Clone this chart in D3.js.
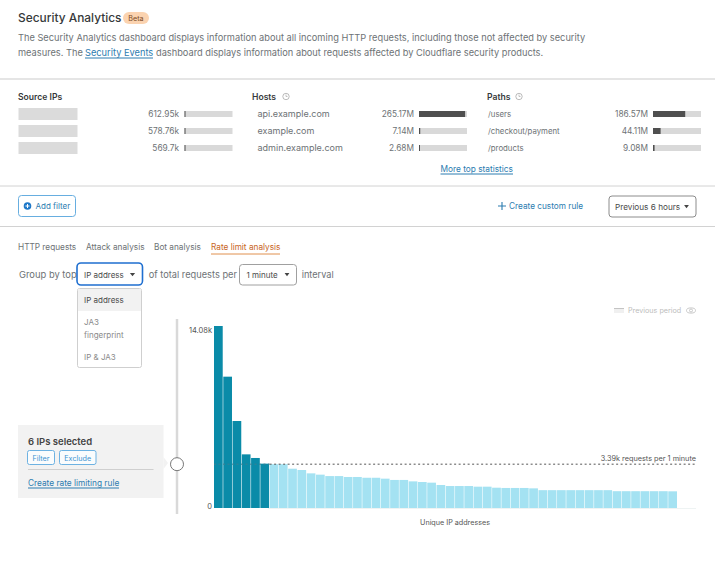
<!DOCTYPE html>
<html>
<head>
<meta charset="utf-8">
<script src="https://cdn.jsdelivr.net/npm/d3@7"></script>
<style>
  html, body { margin: 0; padding: 0; background: #fff; }
  svg { display: block; font-family: Inter, "Noto Sans", Arial, sans-serif; }
</style>
</head>
<body>
<div id="page"></div>
<script>
// top statistics
const sourceValues = [612950, 578760, 569700];
const sourceLabels = ['612.95k', '578.76k', '569.7k'];
const hostNames = ['api.example.com', 'example.com', 'admin.example.com'];
const hostValues = [265170000, 7140000, 2680000];
const hostLabels = ['265.17M', '7.14M', '2.68M'];
const pathNames = ['/users', '/checkout/payment', '/products'];
const pathValues = [186570000, 44110000, 9080000];
const pathLabels = ['186.57M', '44.11M', '9.08M'];
const tabs = ['HTTP requests', 'Attack analysis', 'Bot analysis', 'Rate limit analysis'];
const menuItems = ['IP address', 'JA3', 'fingerprint', 'IP & JA3'];

// rate limit chart, requests per minute for each unique IP
const requests = [
    14080, 10160, 6730, 4150, 3870, 3430, 3390, 3390, 3040, 2940,
    2680, 2580, 2470, 2470, 2400, 2400, 2340, 2340, 2270, 2170,
    2170, 2060, 2010, 1960, 1780, 1700, 1700, 1700, 1650, 1650,
    1570, 1550, 1550, 1550, 1520, 1380, 1380, 1380, 1380, 1380,
    1380, 1380, 1380, 1300, 1300, 1300, 1300, 1300, 1300, 1290
];
const selectedCount = 6;
const threshold = 3390;

const width = 715;
const height = 561;
const bg = { dark: '#4f4f4f', track: '#d9d9d9', text: '#36393a', grey: '#6d7275', blue: '#2c7cb0' };

const svg = d3.select('#page')
    .append('svg')
    .attr('width', width)
    .attr('height', height);

function label(x, y, str, size, fill, anchor, weight) {
    return svg.append('text')
        .attr('x', x)
        .attr('y', y)
        .attr('font-size', size)
        .attr('fill', fill)
        .attr('text-anchor', anchor || 'start')
        .attr('font-weight', weight || 400)
        .text(str);
}

function hline(x1, x2, y, color, w) {
    svg.append('line')
        .attr('x1', x1).attr('x2', x2)
        .attr('y1', y).attr('y2', y)
        .attr('stroke', color)
        .attr('stroke-width', w || 1);
}

function box(x, y, w, h, fill, stroke, r, sw) {
    return svg.append('rect')
        .attr('x', x).attr('y', y)
        .attr('width', w).attr('height', h)
        .attr('rx', r || 0)
        .attr('fill', fill)
        .attr('stroke', stroke || 'none')
        .attr('stroke-width', sw || 1);
}

function caret(x, y, s) {
    svg.append('path')
        .attr('d', d3.line()([[x - s, y - s * 0.6], [x + s, y - s * 0.6], [x, y + s * 0.7]]) + 'Z')
        .attr('fill', '#444');
}

function clock(x, y) {
    svg.append('circle')
        .attr('cx', x).attr('cy', y).attr('r', 3.2)
        .attr('fill', 'none').attr('stroke', '#aaa').attr('stroke-width', 0.8);
    svg.append('path')
        .attr('d', `M${x},${y - 2}V${y}H${x + 1.5}`)
        .attr('fill', 'none').attr('stroke', '#aaa').attr('stroke-width', 0.7);
}

// header
label(18, 22, 'Security Analytics', 11.9, bg.text, 'start', 500);
box(123, 12, 26, 12, '#fbd3b0', 'none', 6);
label(136, 21, 'Beta', 7.2, '#7a4a25', 'middle');
label(18, 41, 'The Security Analytics dashboard displays information about all incoming HTTP requests, including those not affected by security', 9.25, bg.grey);
label(18, 55.5, 'measures. The', 9.25, bg.grey);
label(85, 55.5, 'Security Events', 9.25, bg.blue);
hline(85, 153, 58, bg.blue);
label(156, 55.5, 'dashboard displays information about requests affected by Cloudflare security products.', 9.25, bg.grey);
hline(0, width, 79, '#dcdcdc', 1.5);

// top statistics
label(18, 100, 'Source IPs', 8.6, bg.text, 'start', 600);
label(252, 100, 'Hosts', 8.6, bg.text, 'start', 600);
label(487, 100, 'Paths', 8.6, bg.text, 'start', 600);
clock(286, 96.5);
clock(519, 96.5);

const rowY = d3.scalePoint().domain([0, 1, 2]).range([114, 148]);

function statColumn(names, values, labels, nameX, nameSize, valueX, barX, total) {
    const x = d3.scaleLinear().domain([0, total]).range([0, 48]);
    values.forEach((v, i) => {
        const y = rowY(i);
        if (names) label(nameX, y + 3, names[i], nameSize, bg.grey);
        label(valueX, y + 3, labels[i], 8.3, bg.grey, 'end');
        box(barX, y - 3, 48, 6, bg.track);
        box(barX, y - 3, Math.max(1, x(v)), 6, bg.dark);
    });
}

rowY.domain().forEach(i => box(18.5, rowY(i) - 6, 59, 12, '#dbdbdb'));
statColumn(null, sourceValues, sourceLabels, 0, 0, 179, 184.5, 276000000);
statColumn(hostNames, hostValues, hostLabels, 257.5, 9, 414, 419, 276000000);
statColumn(pathNames, pathValues, pathLabels, 488, 7.8, 648, 653, 278000000);

label(440.5, 171.5, 'More top statistics', 8.3, bg.blue);
hline(440.5, 513, 174, bg.blue);
hline(0, width, 186, '#d2d2d2');

// filter row
box(18.5, 195.5, 57, 21, '#fff', '#67aee0', 3);
svg.append('circle').attr('cx', 27.5).attr('cy', 206).attr('r', 3.8).attr('fill', '#1f78c8');
svg.append('path').attr('d', 'M25.5,206H29.5M27.5,204V208').attr('stroke', '#fff').attr('stroke-width', 1);
label(35.5, 209, 'Add filter', 8, bg.blue);
svg.append('path').attr('d', 'M498,206H506M502,202V210').attr('stroke', bg.blue).attr('stroke-width', 1.1);
label(509, 209, 'Create custom rule', 8.25, bg.blue);
box(609, 196, 87, 21, '#fff', '#8c8c8c', 3);
label(615, 209.5, 'Previous 6 hours', 8.2, '#4a4a4a');
caret(686.5, 206.5, 2.4);
hline(0, width, 226.5, '#d2d2d2');

// tabs
const tabX = [18, 86, 154, 211];
tabs.forEach((t, i) => label(tabX[i], 250, t, 8.25, i === 3 ? '#c8641e' : bg.grey));
hline(211, 280, 254, '#e0904f');

// group by row
label(19, 277.5, 'Group by top', 9.4, bg.grey);
box(77, 263, 65.5, 22, '#fff', '#1f6fd0', 4, 1.6);
label(84, 277.5, 'IP address', 8, '#4a4a4a');
caret(132.5, 274.5, 2.6);
label(148.7, 277.5, 'of total requests per', 9.25, bg.grey);
box(239.5, 264.5, 57, 20.5, '#fff', '#a0a0a0', 3);
label(246.5, 277.5, '1 minute', 8, '#4a4a4a');
caret(287, 274.5, 2.4);
label(301.7, 277.5, 'interval', 9.2, bg.grey);

// dropdown
box(77.5, 288.5, 64, 79, '#fff', '#cfcfcf', 2);
box(78, 289, 63, 22, '#f2f2f2');
label(84, 303, menuItems[0], 8, '#4a4a4a');
label(84, 325, menuItems[1], 8, '#8a8a8a');
label(84, 337.5, menuItems[2], 8, '#8a8a8a');
label(84, 360, menuItems[3], 8, '#8a8a8a');

// previous period legend
box(614, 308, 10, 5, '#f0f0f0');
hline(614, 624, 308.5, '#c4c4c4');
label(628, 313, 'Previous period', 7.2, '#bdbdbd');
svg.append('ellipse').attr('cx', 691).attr('cy', 310.5).attr('rx', 4.5).attr('ry', 2.6)
    .attr('fill', 'none').attr('stroke', '#bdbdbd').attr('stroke-width', 0.8);
svg.append('circle').attr('cx', 691).attr('cy', 310.5).attr('r', 1.5)
    .attr('fill', 'none').attr('stroke', '#bdbdbd').attr('stroke-width', 0.8);

// chart
const x = d3.scaleBand()
    .domain(d3.range(requests.length))
    .range([214, 677])
    .paddingInner(0.06)
    .paddingOuter(0);

const y = d3.scaleLinear()
    .domain([0, d3.max(requests)])
    .range([508, 326]);

svg.append('g')
    .selectAll('rect')
    .data(requests)
    .join('rect')
    .attr('x', (d, i) => x(i))
    .attr('y', d => y(d))
    .attr('width', x.bandwidth())
    .attr('height', d => y(0) - y(d))
    .attr('fill', (d, i) => i < selectedCount ? '#0a8ba8' : '#a4e2f2');

hline(268, 696, 508.5, '#eef3f3');

// threshold line, faint where it crosses the selected bars
const lineSplit = x(selectedCount);
[[214, lineSplit, '#3f7f92'], [lineSplit, 696, '#555']].forEach(([a, b, c]) => {
    svg.append('line')
        .attr('x1', a).attr('x2', b)
        .attr('y1', y(threshold)).attr('y2', y(threshold))
        .attr('stroke', c)
        .attr('stroke-width', 1)
        .attr('stroke-dasharray', '2,2.5');
});

label(696, 460.5, '3.39k requests per 1 minute', 7.3, '#555', 'end');
label(212, 332.5, '14.08k', 7.5, '#555', 'end');
label(212, 508.5, '0', 7.5, '#555', 'end');
label(455, 525, 'Unique IP addresses', 7.2, '#555', 'middle');

// threshold slider
svg.append('line')
    .attr('x1', 177).attr('x2', 177)
    .attr('y1', 319).attr('y2', 514)
    .attr('stroke', '#d9d9d9')
    .attr('stroke-width', 2.5);

// selection panel
box(18, 425, 145.5, 73, '#f2f2f2');
svg.append('path').attr('d', 'M163.5,457L168,463L163.5,469Z').attr('fill', '#f2f2f2');
label(28, 445, '6 IPs selected', 9.5, '#444', 'start', 600);
box(27.5, 450.5, 27, 14, '#fafcfd', '#6db2e2', 2);
label(41, 460.5, 'Filter', 7.2, '#3f94d2', 'middle');
box(59.5, 450.5, 36.5, 14, '#fafcfd', '#6db2e2', 2);
label(77.7, 460.5, 'Exclude', 7.2, '#3f94d2', 'middle');
hline(28, 153.5, 469.5, '#cfcfcf');
label(28, 485.5, 'Create rate limiting rule', 8.3, bg.blue);
hline(28, 119, 488, bg.blue);

svg.append('circle')
    .attr('cx', 177).attr('cy', y(threshold))
    .attr('r', 6.5)
    .attr('fill', '#fff')
    .attr('stroke', '#777')
    .attr('stroke-width', 1);
</script>
</body>
</html>
